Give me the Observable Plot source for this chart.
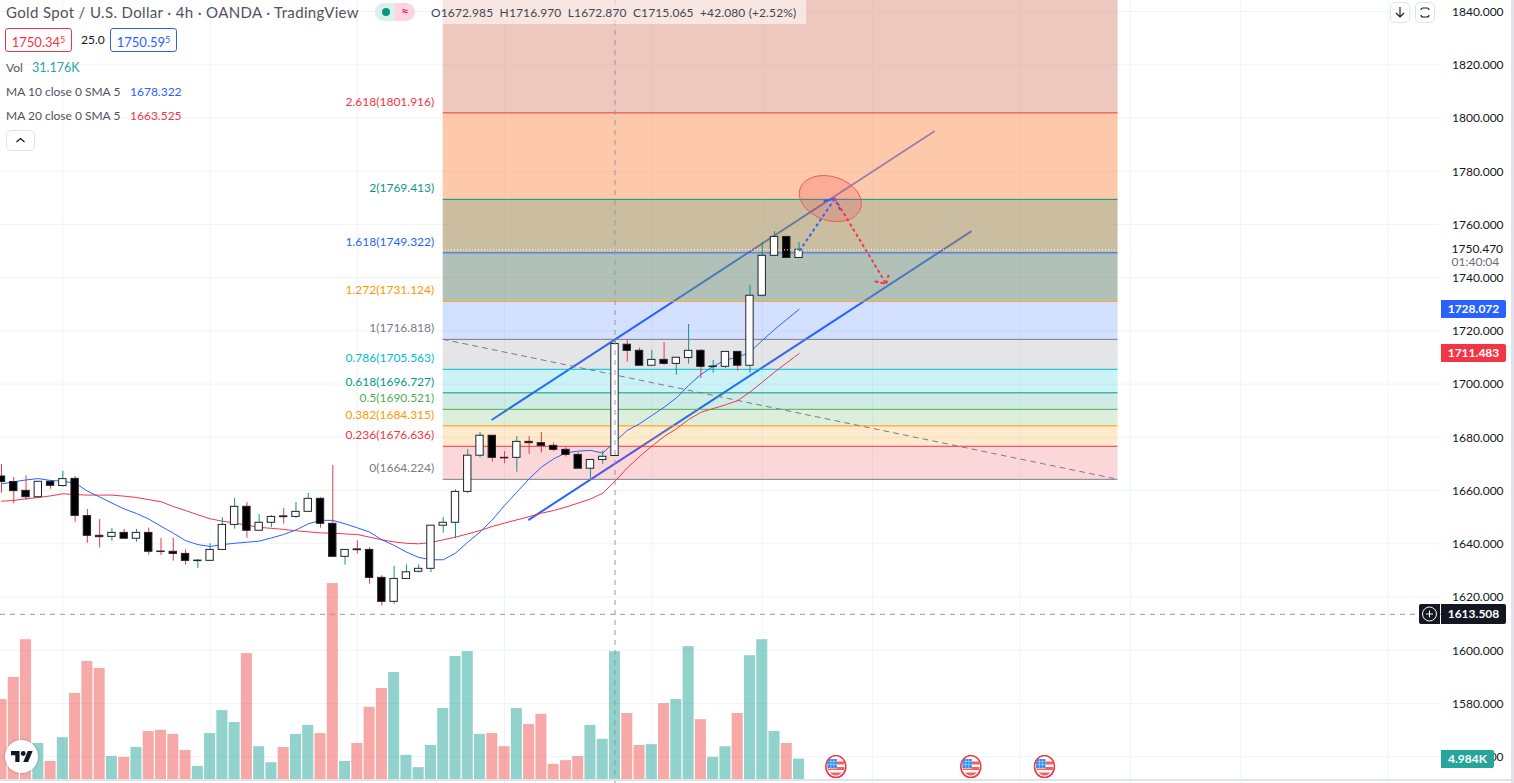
<!DOCTYPE html>
<html><head><meta charset="utf-8">
<script src="https://cdn.jsdelivr.net/npm/d3@7"></script>
<script src="https://cdn.jsdelivr.net/npm/@observablehq/plot@0.6"></script>
<style>
html,body{margin:0;padding:0;background:#fff;overflow:hidden}
#chart{position:relative;width:1514px;height:783px;overflow:hidden;font-family:Lato,sans-serif;color:#131722;font-size:12px}
#chart svg.plot{position:absolute;left:0;top:0}
.t{position:absolute;white-space:nowrap;line-height:16px;color:#50535e}
.box{position:absolute;box-sizing:border-box;border-radius:3px;height:24px;line-height:22px;text-align:center;background:#fff;border:1px solid;font-size:13px}
.box span{font-size:9px;vertical-align:4px}
.tag{position:absolute;left:1441px;width:65px;height:18px;line-height:18px;color:#fff;font-weight:700;text-align:center;border-radius:0 2px 2px 0}
.btn{position:absolute;box-sizing:border-box;border:1px solid #e0e3eb;border-radius:5px;background:#fff}
</style></head><body><div id="chart"></div>
<script>
// ---------- candles (price) ----------
const opens = [1665.3,1663.2,1659.9,1657.5,1663.3,1661.7,1664.4,1650.4,1643.0,1642.6,1644.1,1641.9,1644.1,1637.1,1637.0,1636.2,1633.5,1633.6,1637.7,1647.1,1653.9,1644.9,1647.9,1650.3,1650.1,1652.0,1656.9,1647.5,1635.1,1637.9,1637.7,1627.2,1618.2,1626.8,1629.5,1630.6,1646.8,1647.9,1659.5,1673.1,1680.6,1672.3,1672.3,1678.3,1677.8,1676.8,1675.3,1673.4,1668.2,1671.5,1672.985,1714.8,1712.5,1706.9,1709.1,1707.6,1709.8,1712.5,1706.4,1706.5,1712.1,1706.9,1733.2,1748.2,1755.3,1747.4];
const highs = [1669.8,1664.9,1665.5,1663.3,1663.3,1667.2,1665.3,1652.9,1649.1,1645.8,1645.4,1645.4,1645.9,1642.0,1642.0,1637.7,1634.0,1640.0,1649.8,1657.0,1655.5,1651.0,1650.6,1653.3,1655.5,1658.9,1657.3,1669.4,1637.7,1641.1,1638.5,1628.0,1631.5,1632.1,1632.1,1646.8,1649.9,1660.3,1675.4,1681.8,1680.6,1674.6,1680.3,1680.3,1681.8,1677.9,1676.1,1674.2,1671.5,1674.8,1716.97,1716.6,1713.5,1712.6,1715.6,1709.9,1722.4,1713.0,1708.9,1712.1,1712.1,1737.1,1753.2,1757.3,1755.3,1753.2];
const lows = [1659.0,1655.0,1656.3,1657.3,1660.5,1661.3,1648.1,1640.2,1638.4,1641.0,1641.9,1640.6,1635.7,1635.6,1633.5,1632.0,1630.7,1633.6,1637.7,1645.5,1642.1,1644.9,1646.1,1647.4,1649.6,1652.0,1645.9,1635.1,1632.0,1636.1,1624.8,1616.6,1617.3,1626.8,1629.0,1629.2,1644.0,1641.9,1658.9,1672.3,1670.7,1670.1,1666.9,1673.6,1674.1,1674.6,1672.6,1668.2,1664.4,1669.9,1672.87,1708.3,1706.9,1706.9,1707.1,1703.4,1707.5,1702.1,1704.1,1705.9,1704.9,1704.1,1732.7,1748.2,1747.4,1747.4];
const closes = [1663.2,1659.8,1657.5,1663.3,1661.8,1664.3,1650.5,1643.0,1642.5,1644.1,1641.9,1644.1,1637.0,1636.9,1636.2,1633.6,1633.7,1637.7,1647.1,1653.9,1644.9,1647.9,1650.1,1650.0,1652.0,1656.9,1647.5,1635.1,1637.7,1637.6,1627.2,1618.2,1626.8,1629.3,1630.6,1646.8,1647.9,1659.5,1673.1,1680.6,1672.3,1672.1,1678.3,1677.8,1676.8,1675.3,1673.4,1668.2,1671.5,1672.7,1715.065,1712.5,1706.9,1709.1,1707.6,1709.9,1712.5,1706.5,1706.6,1712.1,1706.9,1733.2,1748.2,1755.3,1747.4,1750.47];
// ---------- volume in thousands ----------
const volumes = [19.5,24.9,34.1,8.8,4.4,10.2,21.0,28.8,27.1,5.6,5.4,7.8,11.7,12.0,11.0,7.1,3.2,11.2,16.8,13.9,30.7,8.0,4.1,7.8,11.0,13.2,11.2,47.8,4.4,8.8,17.6,22.2,26.1,5.9,2.9,8.3,17.3,30.0,31.2,11.0,11.2,8.0,17.3,13.4,15.9,3.7,4.6,5.6,13.2,9.8,31.176,16.1,8.3,8.5,18.5,19.5,32.4,14.6,5.4,8.0,16.1,30.2,34.1,11.7,8.8,4.984];
// ---------- moving averages ----------
const ma10 = [1662.5,1663.3,1664.0,1664.5,1663.8,1663.5,1662.8,1659.8,1657.6,1655.3,1653.1,1651.4,1649.3,1646.6,1644.0,1641.2,1639.7,1639.0,1639.7,1640.2,1640.6,1641.0,1642.2,1643.5,1645.2,1647.5,1648.8,1648.8,1647.5,1646.0,1644.4,1641.5,1639.4,1636.9,1634.9,1634.0,1634.0,1636.5,1640.6,1644.4,1649.0,1654.4,1659.4,1664.4,1668.8,1671.9,1674.2,1674.8,1675.1,1674.1,1678.322,1682.6,1685.1,1688.2,1691.3,1694.8,1699.5,1703.6,1706.6,1709.1,1710.1,1712.0,1716.4,1720.5,1724.3,1728.072];
const ma20 = [1656.0,1656.3,1656.9,1657.4,1658.0,1658.8,1658.5,1658.3,1658.3,1658.3,1657.9,1657.4,1656.6,1655.8,1654.0,1652.5,1650.9,1649.4,1648.5,1647.8,1647.0,1646.2,1645.8,1645.4,1644.9,1644.5,1644.1,1644.0,1643.7,1643.5,1642.5,1641.5,1640.7,1640.2,1640.0,1640.5,1641.5,1642.5,1643.7,1645.0,1646.5,1647.8,1649.0,1650.2,1651.5,1652.5,1653.8,1655.3,1656.8,1659.0,1663.525,1668.5,1672.8,1676.7,1680.3,1683.2,1686.7,1689.4,1690.8,1692.2,1693.8,1697.0,1700.7,1704.5,1708.0,1711.483];
// ---------- fibonacci retracement ----------
const fibRatios = ["2.618","2","1.618","1.272","1","0.786","0.618","0.5","0.382","0.236","0"];
const fibPrices = [1801.916,1769.413,1749.322,1731.124,1716.818,1705.563,1696.727,1690.521,1684.315,1676.636,1664.224];
const fibColors = ["#f23645","#089981","#2962ff","#ff9800","#787b86","#00bcd4","#089981","#4caf50","#ff9800","#f23645","#787b86"];
const fibTop = 1854.5;
const fibFills = ["rgb(224,155,137)","rgb(253,155,102)","rgb(160,137,82)","rgb(113,142,124)","#2962ff","#787b86","#00bcd4","#089981","#4caf50","#ff9800","#f23645"];
const fibAlphas = [.55,.55,.55,.55,.2,.2,.2,.2,.2,.2,.2];
const fibStart = 36, fibEnd = 91;
// ---------- drawings ----------
const upperIdx = [40,76], upperPrice = [1686.7,1794.9];
const lowerIdx = [43,79], lowerPrice = [1649.1,1757.3];
const blueArrowIdx = [65.06,67.92,67.0,67.92,68.41], blueArrowPrice = [1750.2,1769.7,1768.7,1769.7,1765.0];
const redArrowIdx = [67.92,72.1,71.08,72.1,72.38], redArrowPrice = [1769.7,1737.7,1738.7,1737.7,1742.3];
const ellipseCenter = [67.55,1769.7];
const gridBars = [5,17,29,41,53,62,71,83,92,101,113];
const priceTicks = d3.range(1560,1841,20);
const eventBars = [68,79,85];
const crossBar = 50, crossPrice = 1613.508, lastPrice = 1750.47;

// ---------- scale set-up ----------
const barPx = 12.27, pricePx = 2.6615;
const volBase = 1551.44, volK = 1.5405;     // volume pane sits on the same axis
const volY = v => volBase + v * volK;
const idx = d3.range(opens.length);
const isUp = i => closes[i] >= opens[i];
const fibBands = fibPrices.map((p,k)=>({lo:p, hi:k?fibPrices[k-1]:fibTop, f:fibFills[k], a:fibAlphas[k]}));
const fibLevels = fibPrices.map((p,k)=>({p, c:fibColors[k], t:`${fibRatios[k]}(${p.toFixed(3)})`}));
const pts = (a,b)=>a.map((x,k)=>({x,y:b[k]}));
// ellipse outline in data units
const ellipse = d3.range(0,360,6).map(d=>{
  const t=d*Math.PI/180, th=17.8*Math.PI/180, a=31.8, b=21.9;
  const dx=a*Math.cos(t)*Math.cos(th)-b*Math.sin(t)*Math.sin(th);
  const dy=a*Math.cos(t)*Math.sin(th)+b*Math.sin(t)*Math.cos(th);
  return {x:ellipseCenter[0]+dx/barPx, y:ellipseCenter[1]-dy/pricePx};
});
const flag = "data:image/svg+xml,"+encodeURIComponent(`<svg xmlns="http://www.w3.org/2000/svg" viewBox="0 0 22 24"><ellipse cx="11" cy="12" rx="10" ry="11" fill="#fff" stroke="#f23645" stroke-width="1.6"/><path d="M12 7h7.5v3H12zM12 12.5h7.5v3H3v-1.6h9zM5 18h12a8 8 0 0 1-6 3 8 8 0 0 1-6-3z" fill="#f0625f"/><path d="M4 4.5h8v9H2.6V8z" fill="#2f8fef"/><path d="M4 7h8M3 10h9M6 4.5v9M9 4.5v9" stroke="#bcdcff" stroke-width=".6"/></svg>`);

const plot = Plot.plot({
  width:1514, height:783,
  marginLeft:0, marginRight:73, marginTop:0, marginBottom:0,
  x:{domain:[-1/barPx,1440/barPx], axis:null},
  y:{domain:[1549.94,1844.13], range:[783,0], axis:null},
  style:{fontFamily:"Lato,sans-serif",fontSize:"12px",background:"#fff",color:"#131722"},
  marks:[
    Plot.gridY(priceTicks,{stroke:"#f0f3fa",strokeOpacity:1}),
    Plot.ruleX(gridBars,{stroke:"#f0f3fa",strokeOpacity:1}),
    // channel beneath the fib fill
    Plot.line(pts(upperIdx,upperPrice),{x:"x",y:"y",stroke:"#2962ff",strokeWidth:2}),
    Plot.line(pts(lowerIdx,lowerPrice),{x:"x",y:"y",stroke:"#2962ff",strokeWidth:2}),
    // fib bands, levels and labels
    Plot.rect(fibBands,{x1:fibStart,x2:fibEnd,y1:"lo",y2:"hi",fill:"f",fillOpacity:"a",clip:true}),
    Plot.ruleY(fibLevels,{y:"p",x1:fibStart,x2:fibEnd,stroke:"c",strokeWidth:1}),
    Plot.text(fibLevels,{y:"p",x:fibStart,text:"t",fill:"c",textAnchor:"end",dx:-9,dy:-11,fontSize:12}),
    Plot.line(pts([fibStart,fibEnd],[fibPrices[4],fibPrices[10]]),{x:"x",y:"y",stroke:"#787b86",strokeWidth:1,strokeDasharray:"5,5"}),
    // volume
    Plot.rect(idx,{x1:i=>i-.45,x2:i=>i+.45,y1:()=>volBase,y2:i=>volY(volumes[i]),fill:i=>isUp(i)?"#26a69a":"#ef5350",fillOpacity:.5,clip:true}),
    // moving averages
    Plot.line(idx,{x:i=>i,y:i=>ma20[i],stroke:"#f23645",strokeWidth:1,clip:true}),
    Plot.line(idx,{x:i=>i,y:i=>ma10[i],stroke:"#2962ff",strokeWidth:1,clip:true}),
    // candles
    Plot.ruleX(idx,{x:i=>i,y1:i=>lows[i],y2:i=>highs[i],stroke:i=>isUp(i)?"#089981":"#f23645",strokeWidth:1,clip:true}),
    Plot.rect(idx,{x1:i=>i-.3,x2:i=>i+.3,y1:i=>Math.min(opens[i],closes[i]),y2:i=>Math.max(opens[i],closes[i]),fill:i=>isUp(i)?"#fff":"#000",stroke:"#20232e",strokeWidth:1,clip:true}),
    // last price
    Plot.ruleY([lastPrice],{x1:crossBar-50,x2:1440/barPx,stroke:"#fff",strokeDasharray:"1,2",strokeWidth:1}),
    // hand drawing
    Plot.line(ellipse,{x:"x",y:"y",curve:"linear-closed",fill:"#f23645",fillOpacity:.2,stroke:"#ef5a4c",strokeWidth:1}),
    Plot.line(pts(blueArrowIdx,blueArrowPrice),{x:"x",y:"y",stroke:"#2962ff",strokeWidth:2,strokeDasharray:"1.5,4.5"}),
    Plot.line(pts(redArrowIdx,redArrowPrice),{x:"x",y:"y",stroke:"#f23645",strokeWidth:2,strokeDasharray:"1.5,4.5"}),
    // crosshair
    Plot.ruleX([crossBar],{stroke:"#9598a1",strokeDasharray:"5,5",strokeWidth:1}),
    Plot.ruleY([crossPrice],{stroke:"#9598a1",strokeDasharray:"5,5",strokeWidth:1}),
    // economic events
    Plot.image(eventBars,{x:d=>d,y:()=>1556.3,src:()=>flag,width:22,height:24}),
    // price axis
    Plot.axisY(priceTicks,{anchor:"right",tickSize:0,tickPadding:10.5,label:null,tickFormat:d=>d.toFixed(3),fill:"#131722",fontSize:12,dy:.5})
  ]
});
const root = document.getElementById("chart");
root.appendChild(plot);
const Y = plot.scale("y").apply;
const add = (html)=>root.insertAdjacentHTML("beforeend",html);

// value strip + header
add(`<div style="position:absolute;left:442px;top:0;width:364px;height:24px;background:rgba(255,255,255,.55)"></div>`);
add(`<div class="t" style="left:6px;top:4px;font-size:15px;letter-spacing:.35px">Gold Spot / U.S. Dollar · 4h · OANDA · TradingView</div>`);
add(`<div style="position:absolute;left:375px;top:3px;width:20px;height:18px;background:#d9f0ec;border-radius:9px 0 0 9px"></div>
<div style="position:absolute;left:382px;top:8px;width:8px;height:8px;background:#089981;border-radius:50%"></div>
<div style="position:absolute;left:395px;top:3px;width:20px;height:18px;background:#fcd5de;border-radius:0 9px 9px 0;color:#e91e63;text-align:center;line-height:17px;font-size:13px;font-weight:700">≈</div>`);
add(`<div class="t" style="left:431px;top:5px;color:#434651;letter-spacing:.01em">O1672.985&nbsp; H1716.970&nbsp; L1672.870&nbsp; C1715.065 &nbsp;+42.080 (+2.52%)</div>`);
add(`<div class="box" style="left:5px;top:28px;width:67px;color:#f23645;border-color:#f23645">1750.34<span>5</span></div>`);
add(`<div class="t" style="left:81px;top:32px;color:#131722">25.0</div>`);
add(`<div class="box" style="left:110px;top:28px;width:67px;color:#2962ff;border-color:#2962ff">1750.59<span>5</span></div>`);
add(`<div class="t" style="left:6px;top:60px">Vol</div><div class="t" style="left:32px;top:60px;color:#26a69a;font-size:12.5px">31.176K</div>`);
add(`<div class="t" style="left:6px;top:84px">MA 10 close 0 SMA 5</div><div class="t" style="left:130px;top:84px;color:#2962ff">1678.322</div>`);
add(`<div class="t" style="left:6px;top:108px">MA 20 close 0 SMA 5</div><div class="t" style="left:130px;top:108px;color:#f23645">1663.525</div>`);
add(`<div class="btn" style="left:6px;top:130px;width:29px;height:21px"><svg width="27" height="19"><path d="M9.5 11l4-3.5 4 3.5" fill="none" stroke="#131722" stroke-width="1.3"/></svg></div>`);
add(`<div class="btn" style="left:1390px;top:2px;width:20px;height:21px"><svg width="18" height="19"><path d="M9 4v10M5 10l4 4 4-4" fill="none" stroke="#131722" stroke-width="1.1"/></svg></div>`);
add(`<div class="btn" style="left:1415px;top:2px;width:20px;height:21px"><svg width="18" height="19"><path d="M5 7a2 2 0 0 1 2-2h4a2 2 0 0 1 2 2M5 12a2 2 0 0 0 2 2h4a2 2 0 0 0 2-2" fill="none" stroke="#131722" stroke-width="1.1"/></svg></div>`);

// right-hand tags placed through the y scale
add(`<div class="t" style="left:1451.5px;top:${Y(lastPrice)-8}px;color:#131722">${lastPrice.toFixed(3)}</div>`);
add(`<div class="t" style="left:1451.5px;top:${Y(lastPrice)+5}px;color:#6a6d78">01:40:04</div>`);
add(`<div class="tag" style="top:${Y(ma10[65])-9}px;background:#2962ff">${ma10[65].toFixed(3)}</div>`);
add(`<div class="tag" style="top:${Y(ma20[65])-9}px;background:#f23645">${ma20[65].toFixed(3)}</div>`);
add(`<div class="tag" style="top:${Y(crossPrice)-10}px;height:20px;line-height:20px;background:#131722">${crossPrice.toFixed(3)}</div>`);
add(`<div style="position:absolute;left:1419px;top:${Y(crossPrice)-10}px;width:21px;height:20px;background:#131722;border-radius:2px 0 0 2px"><svg width="21" height="20"><circle cx="10.5" cy="10" r="7" fill="none" stroke="#fff"/><path d="M10.5 6.5v7M7 10h7" stroke="#fff"/></svg></div>`);
add(`<div class="tag" style="top:${Y(volY(volumes[65]))-9}px;width:53px;background:#26a69a;border-radius:0 2px 2px 0">${volumes[65].toFixed(3)}K</div>`);

// chart frame edges
add(`<div style="position:absolute;left:0;top:779px;width:1511px;height:1.5px;background:#e0e3eb"></div>`);
add(`<div style="position:absolute;left:1511px;top:0;width:3px;height:783px;background:#e0e3eb"></div>`);
// TradingView badge
add(`<div style="position:absolute;left:5px;top:740px;width:33px;height:33px;border-radius:50%;background:#fff;box-shadow:0 0 3px rgba(0,0,0,.25)"><svg style="position:absolute;left:5.5px;top:11px" width="22" height="11" viewBox="0 0 36 18" preserveAspectRatio="none"><path d="M14 18H7V7H0V0h14zM28 18h-8l7.5-18h8z" fill="#131722"/><circle cx="20" cy="4" r="4" fill="#131722"/></svg></div>`);
</script></body></html>
